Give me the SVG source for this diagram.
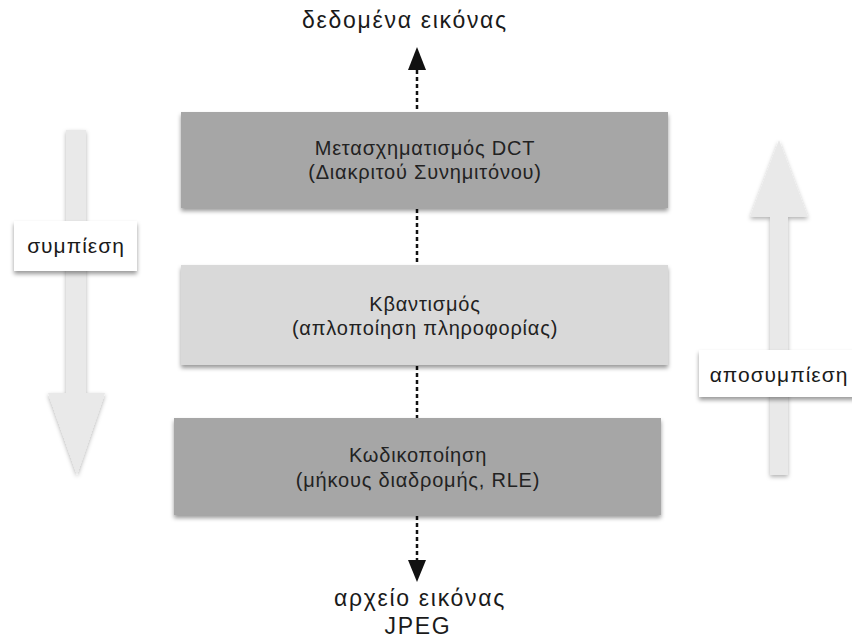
<svg xmlns="http://www.w3.org/2000/svg" width="852" height="641" viewBox="0 0 852 641">
<style>
text { font-family: "Liberation Sans", Arial, sans-serif; fill: #1a1a1a; text-anchor: middle; }
.big { font-size: 23px; letter-spacing: 1.7px; }
.lbl { font-size: 21px; letter-spacing: 1px; }
.bx { font-size: 20px; letter-spacing: 0.8px; fill: #222; }
.dark { fill: #a6a6a6; }
.light { fill: #d9d9d9; }
.card { fill: #ffffff; }
.bigarrow { fill: #e9e9e9; }
.dash { stroke: #111; stroke-width: 2.5; stroke-dasharray: 4 3; fill: none; }
</style>
<defs>
<filter id="sh" x="-10%" y="-10%" width="120%" height="130%">
<feDropShadow dx="0" dy="3" stdDeviation="2" flood-color="#000" flood-opacity="0.4"/>
</filter>
<filter id="sh2" x="-30%" y="-10%" width="160%" height="130%">
<feDropShadow dx="0" dy="2" stdDeviation="2" flood-color="#000" flood-opacity="0.3"/>
</filter>
</defs>

<g id="connectors">
<line class="dash" x1="417" y1="70" x2="417" y2="112"/>
<polygon points="417,47 408,70 426,70" fill="#111"/>
<line class="dash" x1="417" y1="209" x2="417" y2="265"/>
<line class="dash" x1="417" y1="366" x2="417" y2="418"/>
<line class="dash" x1="417" y1="516" x2="417" y2="560"/>
<polygon points="417,582 408,560 426,560" fill="#111"/>
</g>

<g id="compress-arrow">
<polygon class="bigarrow" filter="url(#sh2)" points="66,130 86,130 86,393 105,393 77,475 48,393 66,393"/>
</g>
<g id="compress-label">
<rect class="card" filter="url(#sh)" x="14" y="221" width="123" height="50"/>
<text class="lbl" x="76" y="253">συμπίεση</text>
</g>

<g id="decompress-arrow">
<polygon class="bigarrow" filter="url(#sh2)" points="779,140 808,217 788,217 788,475 770,475 770,217 750,217"/>
</g>
<g id="decompress-label">
<rect class="card" filter="url(#sh)" x="699" y="350" width="160" height="47"/>
<text class="lbl" x="779" y="382">αποσυμπίεση</text>
</g>

<g id="dct">
<rect class="dark" filter="url(#sh)" x="181" y="112" width="487" height="96"/>
<text class="bx" x="425" y="155">Μετασχηματισμός DCT</text>
<text class="bx" x="425" y="179">(Διακριτού Συνημιτόνου)</text>
</g>

<g id="quant">
<rect class="light" filter="url(#sh)" x="181" y="265" width="487" height="100"/>
<text class="bx" x="425" y="311">Κβαντισμός</text>
<text class="bx" x="425" y="335">(απλοποίηση πληροφορίας)</text>
</g>

<g id="coding">
<rect class="dark" filter="url(#sh)" x="174" y="418" width="487" height="97"/>
<text class="bx" x="418" y="462">Κωδικοποίηση</text>
<text class="bx" x="418" y="487">(μήκους διαδρομής,  RLE)</text>
</g>

<g id="top-label">
<text class="big" x="405" y="28">δεδομένα εικόνας</text>
</g>
<g id="bottom-label">
<text class="big" x="420" y="606">αρχείο εικόνας</text>
<text class="big" x="418" y="634">JPEG</text>
</g>
</svg>
